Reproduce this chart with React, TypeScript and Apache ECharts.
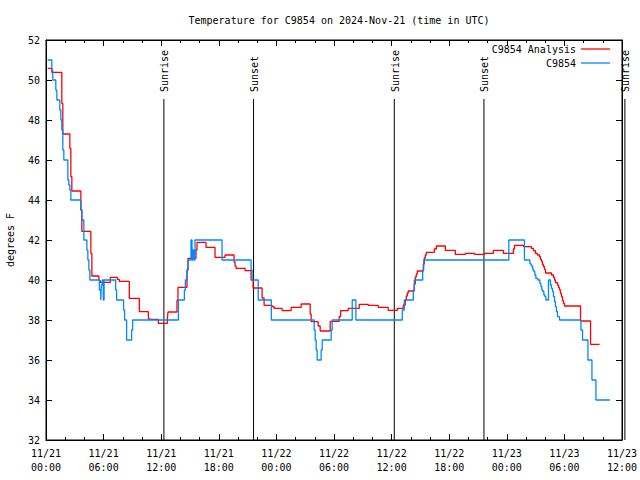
import { useEffect, useRef } from "react";
import * as echarts from "echarts";

const FONT = "'DejaVu Sans Mono', 'Liberation Mono', monospace";

const titleText = "Temperature for C9854 on 2024-Nov-21 (time in UTC)";
const yAxisName = "degrees F";
const seriesNames = ["C9854 Analysis", "C9854"];
const seriesColors = ["#ff0000", "#0088ff"];

// x values are hours since 2024-11-21 00:00 UTC
const xTickLabels = [
  "11/21\n00:00", "11/21\n06:00", "11/21\n12:00", "11/21\n18:00",
  "11/22\n00:00", "11/22\n06:00", "11/22\n12:00", "11/22\n18:00",
  "11/23\n00:00", "11/23\n06:00", "11/23\n12:00",
];

const eventNames = ["Sunrise", "Sunset", "Sunrise", "Sunset", "Sunrise"];
const eventHours = [12.28, 21.62, 36.28, 45.62, 60.3];

const analysisHours = [
  0.18, 0.605, 1.648, 1.752, 2.483, 2.587, 2.691, 3.63, 3.734, 4.673, 4.777,
  5.507, 5.653, 6.697, 7.427, 7.635, 8.678, 9.721, 10.66, 10.765, 11.703,
  12.642, 12.705, 13.643, 13.748, 14.687, 14.791, 15.625, 15.73, 16.669,
  17.607, 18.65, 19.589, 19.693, 19.798, 20.736, 21.362, 21.571, 22.51,
  22.718, 23.553, 23.761, 24.596, 25.535, 26.578, 27.517, 27.621, 28.351,
  28.56, 29.603, 30.541, 30.688, 31.48, 32.627, 33.566, 34.609, 35.652,
  36.591, 37.217, 37.426, 37.53, 37.634, 37.738, 38.364, 38.469, 38.573,
  38.677, 39.303, 39.407, 39.511, 39.616, 40.45, 40.659, 41.598, 42.641,
  43.684, 44.623, 45.666, 46.605, 47.648, 48.691, 48.795, 49.734, 50.568,
  50.777, 50.986, 51.194, 51.403, 51.507, 51.612, 51.716, 51.82, 51.924,
  52.029, 52.655, 52.864, 52.968, 53.072, 53.281, 53.385, 53.489, 53.594,
  53.698, 53.802, 53.907, 54.011, 55.68, 56.723, 57.662,
];
const analysisTemps = [
  50.58, 50.38, 48.83, 47.3, 46.58, 45.17, 44.45, 43.5, 42.43, 41.33, 40.2,
  39.98, 39.88, 40.13, 40.03, 39.93, 39.08, 38.42, 38.07, 38.03, 37.83,
  38.03, 38.4, 38.98, 39.63, 40.5, 41.08, 41.5, 41.88, 41.63,
  41.13, 41.25, 40.9, 40.7, 40.58, 40.47, 40.0, 39.6, 39.1,
  38.73, 38.67, 38.58, 38.47, 38.63, 38.8, 38.3, 37.92, 37.7,
  37.45, 37.93, 38.17, 38.47, 38.58, 38.78, 38.73, 38.63, 38.48,
  38.58, 38.75, 39.0, 39.2, 39.35, 39.45, 39.8, 40.15, 40.3,
  40.45, 40.8, 41.1, 41.25, 41.38, 41.55, 41.7, 41.48, 41.28,
  41.33, 41.28, 41.33, 41.48, 41.33, 41.55, 41.73, 41.67, 41.58,
  41.47, 41.33, 41.25, 41.17, 41.03, 40.92, 40.78, 40.67, 40.53,
  40.35, 40.25, 40.13, 40.0, 39.87, 39.75, 39.63, 39.5, 39.33,
  39.17, 38.97, 38.83, 38.7, 37.95, 36.78, 36.78,
];

const obsHours = [
  0.18, 0.605, 0.709, 1.022, 1.127, 1.439, 1.544, 1.648, 1.752, 1.857, 2.274,
  2.378, 2.483, 2.587, 3.63, 3.734, 3.943, 4.256, 4.36, 4.464, 4.569, 5.56,
  5.7, 5.77, 5.86, 5.97, 6.05, 7.25, 7.354, 8.084, 8.188, 8.397, 8.918,
  9.023, 13.79, 14.415, 14.52, 14.687, 14.791, 15.104, 15.208, 15.313,
  15.417, 15.521, 18.337, 21.362, 21.466, 22.11, 23.47, 27.934, 28.039,
  28.143, 28.247, 28.664, 28.768, 29.707, 29.811, 31.897, 32.28, 37.113,
  37.321, 38.26, 38.364, 39.241, 39.345, 48.211, 49.838, 50.401, 50.51,
  50.61, 50.71, 50.82, 50.92, 51.03, 51.236, 51.444, 51.55, 51.65, 51.76,
  51.86, 51.97, 52.07, 52.342, 52.55, 52.65, 52.76, 52.86, 52.97, 53.07,
  53.17, 53.28, 53.489, 55.722, 55.889, 56.452, 56.869, 57.286, 58.746,
];
const obsTemps = [
  51.0, 50.5, 50.0, 49.5, 49.0, 48.5, 48.0, 47.5, 46.5, 46.0, 45.0,
  44.75, 44.5, 44.0, 43.5, 43.0, 42.0, 41.5, 41.0, 40.5, 40.0, 39.5,
  39.0, 39.75, 40.0, 39.0, 40.0, 39.5, 39.0, 38.5, 38.0, 37.0, 37.5,
  38.0, 39.0, 39.5, 40.0, 40.5, 41.0, 42.0, 41.0, 41.5,
  41.0, 42.0, 41.0, 40.5, 40.0, 39.0, 38.0, 37.5, 37.0,
  36.5, 36.0, 36.5, 37.0, 37.5, 38.0, 39.0, 38.0, 38.5,
  39.0, 39.5, 40.0, 40.5, 41.0, 42.0, 41.0, 40.83, 40.75,
  40.67, 40.5, 40.42, 40.25, 40.08, 40.0, 39.83, 39.67, 39.5, 39.42,
  39.25, 39.17, 39.0, 40.0, 39.75, 39.58, 39.42, 39.17, 38.92, 38.67,
  38.42, 38.17, 38.0, 37.5, 37.0, 36.0, 35.0, 34.0, 34.0,
];

const X_MIN = 0;
const X_MAX = 60;
const X_STEP = 6;
const Y_MIN = 32;
const Y_MAX = 52;
const Y_STEP = 2;

const zip = (a: number[], b: number[]) => a.map((v, i) => [v, b[i]]);

export default function App() {
  const ref = useRef<HTMLDivElement>(null);

  useEffect(() => {
    if (!ref.current) return;
    const chart = echarts.init(ref.current, null, { renderer: "svg" });
    const black = "#000";
    const labelStyle = { fontFamily: FONT, fontSize: 10, color: black };

    const xAxisBase = (position: "bottom" | "top", showLabel: boolean) => ({
      type: "value",
      position,
      min: X_MIN,
      max: X_MAX,
      interval: X_STEP,
      axisLine: { show: true, onZero: false, lineStyle: { color: black, width: 1 } },
      axisTick: { show: true, inside: true, length: 6, lineStyle: { color: black } },
      minorTick: { show: true, splitNumber: 3, length: 3, lineStyle: { color: black } },
      splitLine: { show: false },
      minorSplitLine: { show: false },
      axisLabel: {
        show: showLabel,
        ...labelStyle,
        lineHeight: 14,
        margin: 6,
        showMinLabel: true,
        showMaxLabel: true,
        formatter: (v: number) => xTickLabels[Math.round((v - X_MIN) / X_STEP)] ?? "",
      },
    });
    const yAxisBase = (position: "left" | "right", showLabel: boolean) => ({
      type: "value",
      position,
      min: Y_MIN,
      max: Y_MAX,
      interval: Y_STEP,
      axisLine: { show: true, onZero: false, lineStyle: { color: black, width: 1 } },
      axisTick: { show: true, inside: true, length: 6, lineStyle: { color: black } },
      splitLine: { show: false },
      axisLabel: { show: showLabel, ...labelStyle, margin: 6 },
    });

    const legendBase = (name: string, top: number) => ({
      data: [name],
      right: 30,
      top,
      padding: 0,
      orient: "vertical",
      align: "right",
      icon: "rect",
      itemWidth: 29,
      itemHeight: 1.3,
      selectedMode: false,
      textStyle: { ...labelStyle },
    });

    chart.setOption({
      animation: false,
      backgroundColor: "#fff",
      textStyle: { fontFamily: FONT },
      grid: {
        left: 46,
        right: 18,
        top: 40,
        bottom: 40,
        show: true,
        borderColor: black,
        borderWidth: 1,
        backgroundColor: "transparent",
        containLabel: false,
        outerBoundsMode: "none",
      },
      legend: [legendBase(seriesNames[0], 44), legendBase(seriesNames[1], 58)],
      xAxis: [xAxisBase("bottom", true), xAxisBase("top", false)],
      yAxis: [yAxisBase("left", true), yAxisBase("right", false)],
      series: [
        {
          name: seriesNames[0],
          type: "line",
          step: "end",
          symbol: "none",
          xAxisIndex: 0,
          yAxisIndex: 0,
          data: zip(analysisHours, analysisTemps),
          lineStyle: { color: seriesColors[0], width: 1.3 },
          itemStyle: { color: seriesColors[0] },
          z: 3,
        },
        {
          name: seriesNames[1],
          type: "line",
          step: "end",
          symbol: "none",
          xAxisIndex: 0,
          yAxisIndex: 0,
          data: zip(obsHours, obsTemps),
          lineStyle: { color: seriesColors[1], width: 1.3 },
          itemStyle: { color: seriesColors[1] },
          z: 4,
        },
      ],
    });

    const yBottom = chart.convertToPixel({ yAxisIndex: 0 }, Y_MIN) as number;
    const yTop = chart.convertToPixel({ yAxisIndex: 0 }, Y_MAX) as number;
    const graphics: any[] = [
      {
        type: "text",
        x: 339,
        y: 20,
        style: { text: titleText, fill: black, font: `10px ${FONT}`, align: "center", verticalAlign: "middle" },
      },
      {
        type: "text",
        x: 10,
        y: (yBottom + yTop) / 2,
        rotation: Math.PI / 2,
        style: { text: yAxisName, fill: black, font: `10px ${FONT}`, align: "center", verticalAlign: "middle" },
      },
    ];
    eventHours.forEach((t, i) => {
      const x = chart.convertToPixel({ xAxisIndex: 0 }, t) as number;
      graphics.push({
        type: "line",
        shape: { x1: x, y1: 99, x2: x, y2: yBottom },
        style: { stroke: black, lineWidth: 1 },
        z: 2,
      });
      graphics.push({
        type: "text",
        x: x + 1,
        y: 92,
        rotation: Math.PI / 2,
        style: { text: eventNames[i], fill: black, font: `10px ${FONT}`, align: "left", verticalAlign: "middle" },
      });
    });
    chart.setOption({ graphic: graphics });

    return () => chart.dispose();
  }, []);

  return (
    <div
      ref={ref}
      style={{ position: "absolute", left: 0, top: 0, width: 640, height: 480, background: "#fff" }}
    />
  );
}
